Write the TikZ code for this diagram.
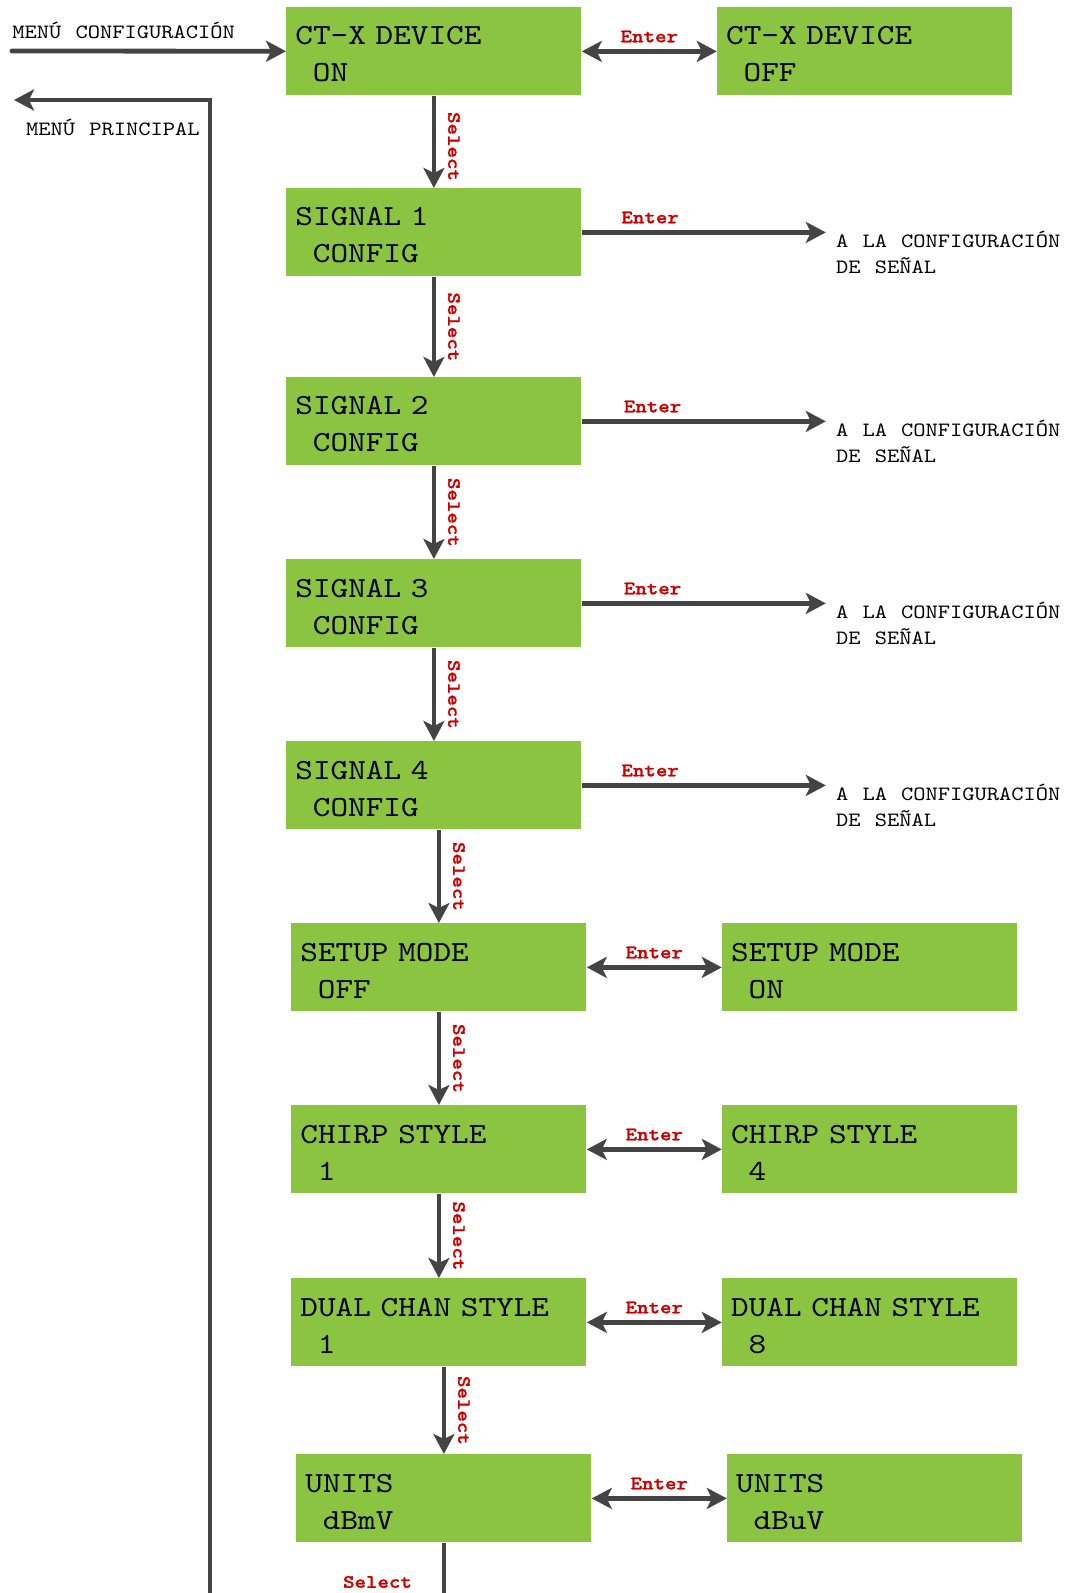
\documentclass[tikz,border=0pt]{standalone}
\usepackage{fontspec}
\usepackage{xcolor}
\usepackage{tikz}
\usetikzlibrary{arrows.meta, positioning}
\newfontfamily\lcdfont[FakeStretch=1.15, WordSpace=1.15]{lmmono10-regular.otf}
\newfontfamily\keyfont[FakeStretch=1.15, FakeBold=1.2]{lmmonolt10-bold.otf}
\definecolor{lcdgreen}{RGB}{138,196,64}
\definecolor{wire}{RGB}{68,68,68}
\definecolor{keyred}{RGB}{204,0,0}
\newcommand{\lcdind}{\hspace*{0.6em}}

\begin{document}
\begin{tikzpicture}[
    x=0.5pt, y=0.5pt,
    screen/.style={rectangle, fill=lcdgreen, anchor=north west, minimum width=147.5pt, minimum height=44pt, text width=138.5pt, text height=18.8pt, text depth=25.2pt, inner xsep=4.5pt, inner ysep=0pt, align=left, font=\lcdfont\fontsize{14.6}{18.5}\selectfont},
    flow/.style={draw=wire, line width=2.4pt, >={Stealth[length=10pt, width=10.5pt, inset=2.5pt]}},
    keylbl/.style={text=keyred, inner sep=1.5pt, font=\keyfont\fontsize{9.5}{11}\selectfont},
    note/.style={inner sep=0pt, align=left, font=\lcdfont\fontsize{10.15}{13.2}\selectfont}
]
    \useasboundingbox (0,0) rectangle (1065,-1593);

    % main column
    \node[screen] (ct_on) at (286,-7) {CT-X DEVICE\\\lcdind ON};
    \node[screen] (sig1) at (286,-188) {SIGNAL 1\\\lcdind CONFIG};
    \node[screen] (sig2) at (286,-377) {SIGNAL 2\\\lcdind CONFIG};
    \node[screen] (sig3) at (286,-559) {SIGNAL 3\\\lcdind CONFIG};
    \node[screen] (sig4) at (286,-741) {SIGNAL 4\\\lcdind CONFIG};
    \node[screen] (setup_off) at (291,-923) {SETUP MODE\\\lcdind OFF};
    \node[screen] (chirp_a) at (291,-1105) {CHIRP STYLE\\\lcdind 1};
    \node[screen] (dual_a) at (291,-1278) {DUAL CHAN STYLE\\\lcdind 1};
    \node[screen] (units_a) at (296,-1454) {UNITS\\\lcdind dBmV};

    % toggled values
    \node[screen, right=67.5pt of ct_on] (ct_off) {CT-X DEVICE\\\lcdind OFF};
    \node[screen, right=67.5pt of setup_off] (setup_on) {SETUP MODE\\\lcdind ON};
    \node[screen, right=67.5pt of chirp_a] (chirp_b) {CHIRP STYLE\\\lcdind 4};
    \node[screen, right=67.5pt of dual_a] (dual_b) {DUAL CHAN STYLE\\\lcdind 8};
    \node[screen, right=67.5pt of units_a] (units_b) {UNITS\\\lcdind dBuV};

    % free ends
    \coordinate (cfg_in) at (12,-51);
    \coordinate (back_in) at (210,-1600);
    \coordinate (back_out) at (14,-100);
    \coordinate[right=122pt of sig1.east] (out1);
    \coordinate[right=122pt of sig2.east] (out2);
    \coordinate[right=122pt of sig3.east] (out3);
    \coordinate[right=122pt of sig4.east] (out4);
    \coordinate (units_end) at ([yshift=-28pt]units_a.south);

    \node[note, anchor=base west] (menu_cfg) at (12,-39) {MENÚ CONFIGURACIÓN};
    \node[note, anchor=base east] (menu_main) at (200,-136) {MENÚ PRINCIPAL};
    \node[note, anchor=base west] (cfg1) at ([xshift=5pt, yshift=-20.7pt]out1) {A LA CONFIGURACIÓN\\DE SEÑAL};
    \node[note, anchor=base west] (cfg2) at ([xshift=5pt, yshift=-20.7pt]out2) {A LA CONFIGURACIÓN\\DE SEÑAL};
    \node[note, anchor=base west] (cfg3) at ([xshift=5pt, yshift=-20.7pt]out3) {A LA CONFIGURACIÓN\\DE SEÑAL};
    \node[note, anchor=base west] (cfg4) at ([xshift=5pt, yshift=-20.7pt]out4) {A LA CONFIGURACIÓN\\DE SEÑAL};

    \draw[flow, ->, line cap=round] (cfg_in) -- (ct_on);
    \draw[flow, ->] (back_in) |- (back_out);

    % select path
    \draw[flow, ->] (ct_on) -- (sig1) node[keylbl, pos=0.55, rotate=-90, anchor=south, outer sep=5.5pt] {Select};
    \draw[flow, ->] (sig1) -- (sig2) node[keylbl, midway, rotate=-90, anchor=south, outer sep=5.5pt] {Select};
    \draw[flow, ->] (sig2) -- (sig3) node[keylbl, midway, rotate=-90, anchor=south, outer sep=5.5pt] {Select};
    \draw[flow, ->] (sig3) -- (sig4) node[keylbl, midway, rotate=-90, anchor=south, outer sep=5.5pt] {Select};
    \draw[flow, ->] (sig4.south -| setup_off) -- (setup_off) node[keylbl, midway, rotate=-90, anchor=south, outer sep=5.5pt] {Select};
    \draw[flow, ->] (setup_off) -- (chirp_a) node[keylbl, midway, rotate=-90, anchor=south, outer sep=5.5pt] {Select};
    \draw[flow, ->] (chirp_a) -- (dual_a) node[keylbl, midway, rotate=-90, anchor=south, outer sep=5.5pt] {Select};
    \draw[flow, ->] (dual_a.south -| units_a) -- (units_a) node[keylbl, midway, rotate=-90, anchor=south, outer sep=5.5pt] {Select};
    \draw[flow] (units_a) -- (units_end) node[keylbl, pos=0.7, anchor=east, outer sep=14.5pt] {Select};

    % enter path
    \draw[flow, <->] (ct_on) -- (ct_off) node[keylbl, midway, above, outer sep=3pt] {Enter};
    \draw[flow, ->] (sig1) -- (out1) node[keylbl, pos=0.28, above, outer sep=3pt] {Enter};
    \draw[flow, ->] (sig2) -- (out2) node[keylbl, pos=0.29, above, outer sep=3pt] {Enter};
    \draw[flow, ->] (sig3) -- (out3) node[keylbl, pos=0.29, above, outer sep=3pt] {Enter};
    \draw[flow, ->] (sig4) -- (out4) node[keylbl, pos=0.28, above, outer sep=3pt] {Enter};
    \draw[flow, <->] (setup_off) -- (setup_on) node[keylbl, midway, above, outer sep=3pt] {Enter};
    \draw[flow, <->] (chirp_a) -- (chirp_b) node[keylbl, midway, above, outer sep=3pt] {Enter};
    \draw[flow, <->] (dual_a) -- (dual_b) node[keylbl, midway, above, outer sep=3pt] {Enter};
    \draw[flow, <->] (units_a) -- (units_b) node[keylbl, midway, above, outer sep=3pt] {Enter};
\end{tikzpicture}
\end{document}
